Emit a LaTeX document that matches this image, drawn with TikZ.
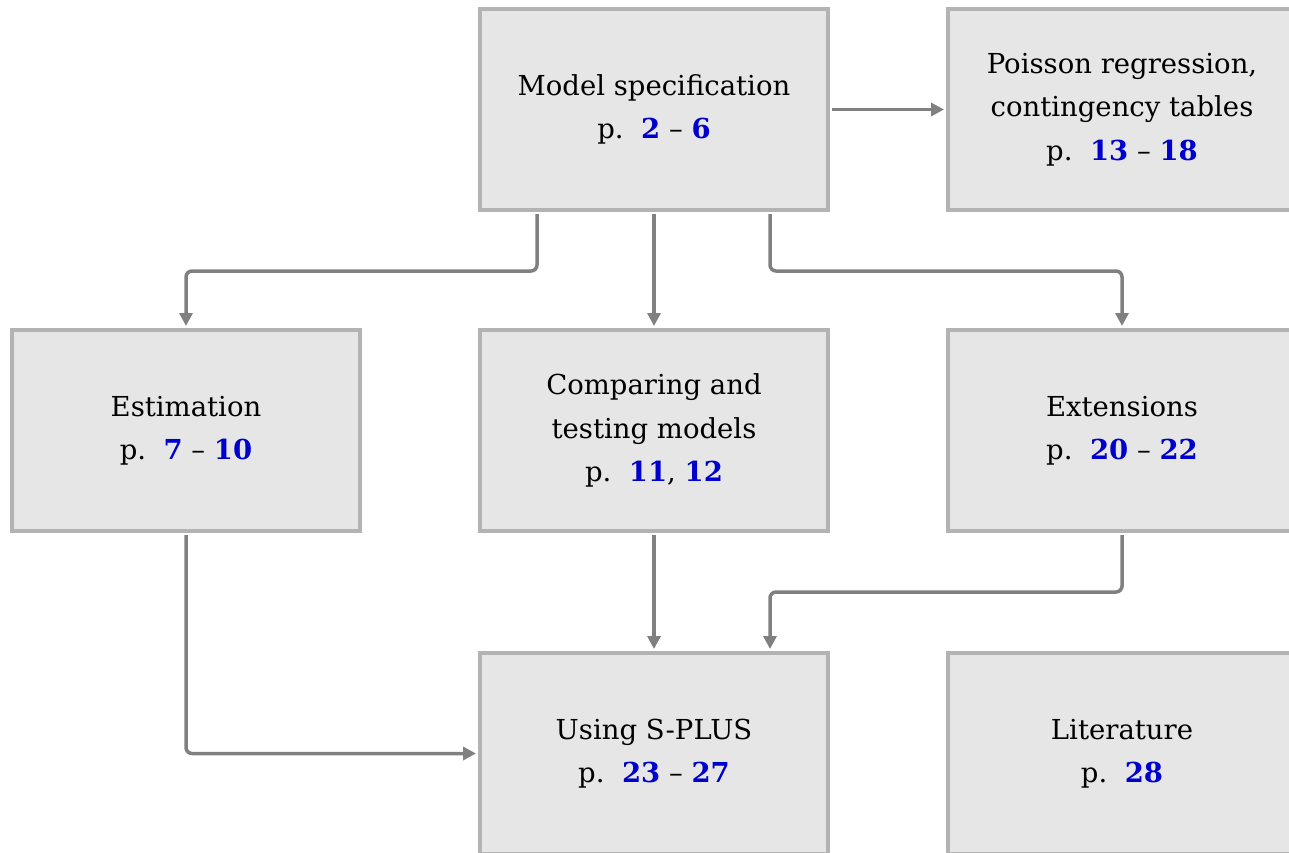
\documentclass[tikz,border=0pt]{standalone}
\usepackage{fontspec}
\setmainfont{DejaVu Serif}
\usetikzlibrary{arrows.meta}
\definecolor{boxfill}{RGB}{230,230,230}
\definecolor{boxline}{RGB}{179,179,179}
\definecolor{arrowc}{RGB}{128,128,128}
\definecolor{pnum}{RGB}{0,0,204}
\newcommand{\pn}[1]{\textcolor{pnum}{\textbf{#1}}}
\tikzset{
  box/.style={draw=boxline, fill=boxfill, line width=4pt, minimum width=348pt, minimum height=201pt,
    inner sep=0pt, align=center, font=\fontsize{27.5}{43.5}\selectfont},
  conn/.style={draw=arrowc, line width=3.5pt, rounded corners=6pt, -{Triangle[length=13pt,width=13pt]}}
}
\begin{document}
\begin{tikzpicture}[x=1pt,y=-1pt]
\useasboundingbox (0,0) rectangle (1289,853);
\clip (0,0) rectangle (1289,853);
\node[box] (ms) at (654,109.5) {Model specification\\p.~~\pn{2} -- \pn{6}};
\node[box] (po) at (1122,109.5) {Poisson regression,\\contingency tables\\p.~~\pn{13} -- \pn{18}};
\node[box] (es) at (186,430.5) {Estimation\\p.~~\pn{7} -- \pn{10}};
\node[box] (co) at (654,430.5) {Comparing and\\testing models\\p.~~\pn{11}, \pn{12}};
\node[box] (ex) at (1122,430.5) {Extensions\\p.~~\pn{20} -- \pn{22}};
\node[box] (us) at (654,753.5) {Using S-PLUS\\p.~~\pn{23} -- \pn{27}};
\node[box] (li) at (1122,753.5) {Literature\\p.~~\pn{28}};
\draw[conn] ([xshift=2pt]ms.east) -- ([xshift=-2pt]po.west);
\draw[conn] ([xshift=-117pt,yshift=-2pt]ms.south) -- ++(0,57) -| ([yshift=2pt]es.north);
\draw[conn] ([yshift=-2pt]ms.south) -- ([yshift=2pt]co.north);
\draw[conn] ([xshift=116pt,yshift=-2pt]ms.south) -- ++(0,57) -| ([yshift=2pt]ex.north);
\draw[conn] ([yshift=-2pt]es.south) |- ([xshift=-2pt]us.west);
\draw[conn] ([yshift=-2pt]co.south) -- ([yshift=2pt]us.north);
\draw[conn] ([yshift=-2pt]ex.south) -- ++(0,57) -| ([xshift=116pt,yshift=2pt]us.north);
\end{tikzpicture}
\end{document}
